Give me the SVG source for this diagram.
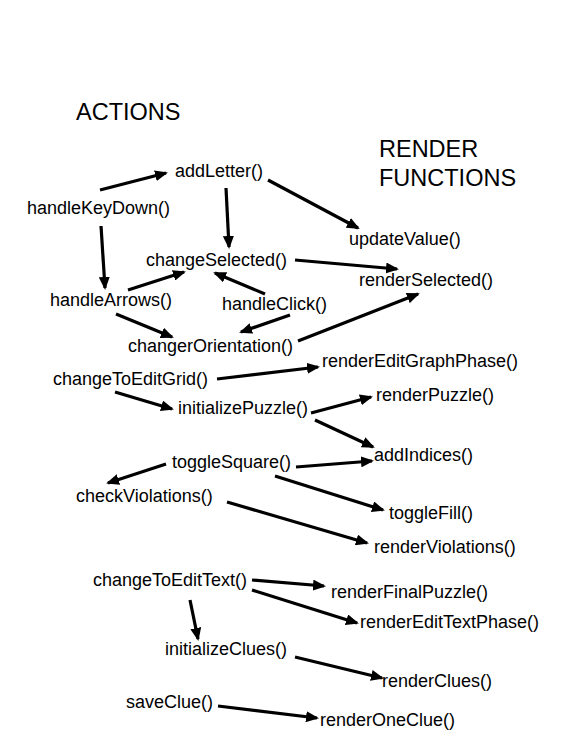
<svg xmlns="http://www.w3.org/2000/svg" width="563" height="750" viewBox="0 0 563 750">
<style>
text{font-family:"Liberation Sans",Arial,Helvetica,sans-serif;fill:#000}
.lbl{font-size:18px}
.hd{font-size:23.5px}
.c line{stroke:#000;stroke-width:3.2;marker-end:url(#ah)}
</style>
<defs>
<marker id="ah" viewBox="0 0 13 11" refX="11" refY="5.5" markerWidth="13" markerHeight="11" markerUnits="userSpaceOnUse" orient="auto">
<path d="M0,0 L13,5.5 L0,11 z" fill="#000"/>
</marker>
</defs>
<rect width="563" height="750" fill="#fff"/>
<g id="headings">
<text class="hd" x="76" y="120">ACTIONS</text>
<text class="hd" x="379" y="157">RENDER</text>
<text class="hd" x="379" y="186">FUNCTIONS</text>
</g>
<g id="n-addLetter"><text class="lbl" x="175" y="177">addLetter()</text></g>
<g id="n-handleKeyDown"><text class="lbl" x="27" y="214">handleKeyDown()</text></g>
<g id="n-updateValue"><text class="lbl" x="349" y="245">updateValue()</text></g>
<g id="n-changeSelected"><text class="lbl" x="146" y="266">changeSelected()</text></g>
<g id="n-renderSelected"><text class="lbl" x="359" y="286">renderSelected()</text></g>
<g id="n-handleArrows"><text class="lbl" x="50" y="306">handleArrows()</text></g>
<g id="n-handleClick"><text class="lbl" x="222" y="310">handleClick()</text></g>
<g id="n-changerOrientation"><text class="lbl" x="128" y="352">changerOrientation()</text></g>
<g id="n-renderEditGraphPhase"><text class="lbl" x="322" y="367">renderEditGraphPhase()</text></g>
<g id="n-changeToEditGrid"><text class="lbl" x="53" y="385">changeToEditGrid()</text></g>
<g id="n-initializePuzzle"><text class="lbl" x="178" y="414">initializePuzzle()</text></g>
<g id="n-renderPuzzle"><text class="lbl" x="376" y="401">renderPuzzle()</text></g>
<g id="n-addIndices"><text class="lbl" x="374" y="461">addIndices()</text></g>
<g id="n-toggleSquare"><text class="lbl" x="172" y="468">toggleSquare()</text></g>
<g id="n-checkViolations"><text class="lbl" x="76" y="502">checkViolations()</text></g>
<g id="n-toggleFill"><text class="lbl" x="389" y="519">toggleFill()</text></g>
<g id="n-renderViolations"><text class="lbl" x="374" y="553">renderViolations()</text></g>
<g id="n-changeToEditText"><text class="lbl" x="93" y="586">changeToEditText()</text></g>
<g id="n-renderFinalPuzzle"><text class="lbl" x="331" y="598">renderFinalPuzzle()</text></g>
<g id="n-renderEditTextPhase"><text class="lbl" x="360" y="628">renderEditTextPhase()</text></g>
<g id="n-initializeClues"><text class="lbl" x="165" y="655">initializeClues()</text></g>
<g id="n-renderClues"><text class="lbl" x="382" y="687">renderClues()</text></g>
<g id="n-saveClue"><text class="lbl" x="126" y="708">saveClue()</text></g>
<g id="n-renderOneClue"><text class="lbl" x="320" y="726">renderOneClue()</text></g>
<g id="connectors" class="c">
<line x1="100" y1="190" x2="166" y2="173"/>
<line x1="226" y1="188" x2="229" y2="247"/>
<line x1="268" y1="180" x2="358" y2="228"/>
<line x1="101" y1="226" x2="105" y2="288"/>
<line x1="128" y1="290" x2="184" y2="272"/>
<line x1="265" y1="294" x2="215" y2="273"/>
<line x1="295" y1="260" x2="397" y2="269"/>
<line x1="116" y1="314" x2="172" y2="337"/>
<line x1="290" y1="315" x2="241" y2="332"/>
<line x1="298" y1="341" x2="418" y2="294"/>
<line x1="217" y1="379" x2="318" y2="367"/>
<line x1="115" y1="392" x2="172" y2="409"/>
<line x1="311" y1="413" x2="371" y2="397"/>
<line x1="315" y1="420" x2="373" y2="447"/>
<line x1="296" y1="467" x2="372" y2="461"/>
<line x1="166" y1="464" x2="108" y2="483"/>
<line x1="275" y1="476" x2="383" y2="510"/>
<line x1="227" y1="502" x2="367" y2="543"/>
<line x1="252" y1="580" x2="324" y2="586"/>
<line x1="252" y1="590" x2="357" y2="623"/>
<line x1="190" y1="600" x2="198" y2="639"/>
<line x1="295" y1="657" x2="382" y2="678"/>
<line x1="218" y1="706" x2="317" y2="718"/>
</g>
</svg>
